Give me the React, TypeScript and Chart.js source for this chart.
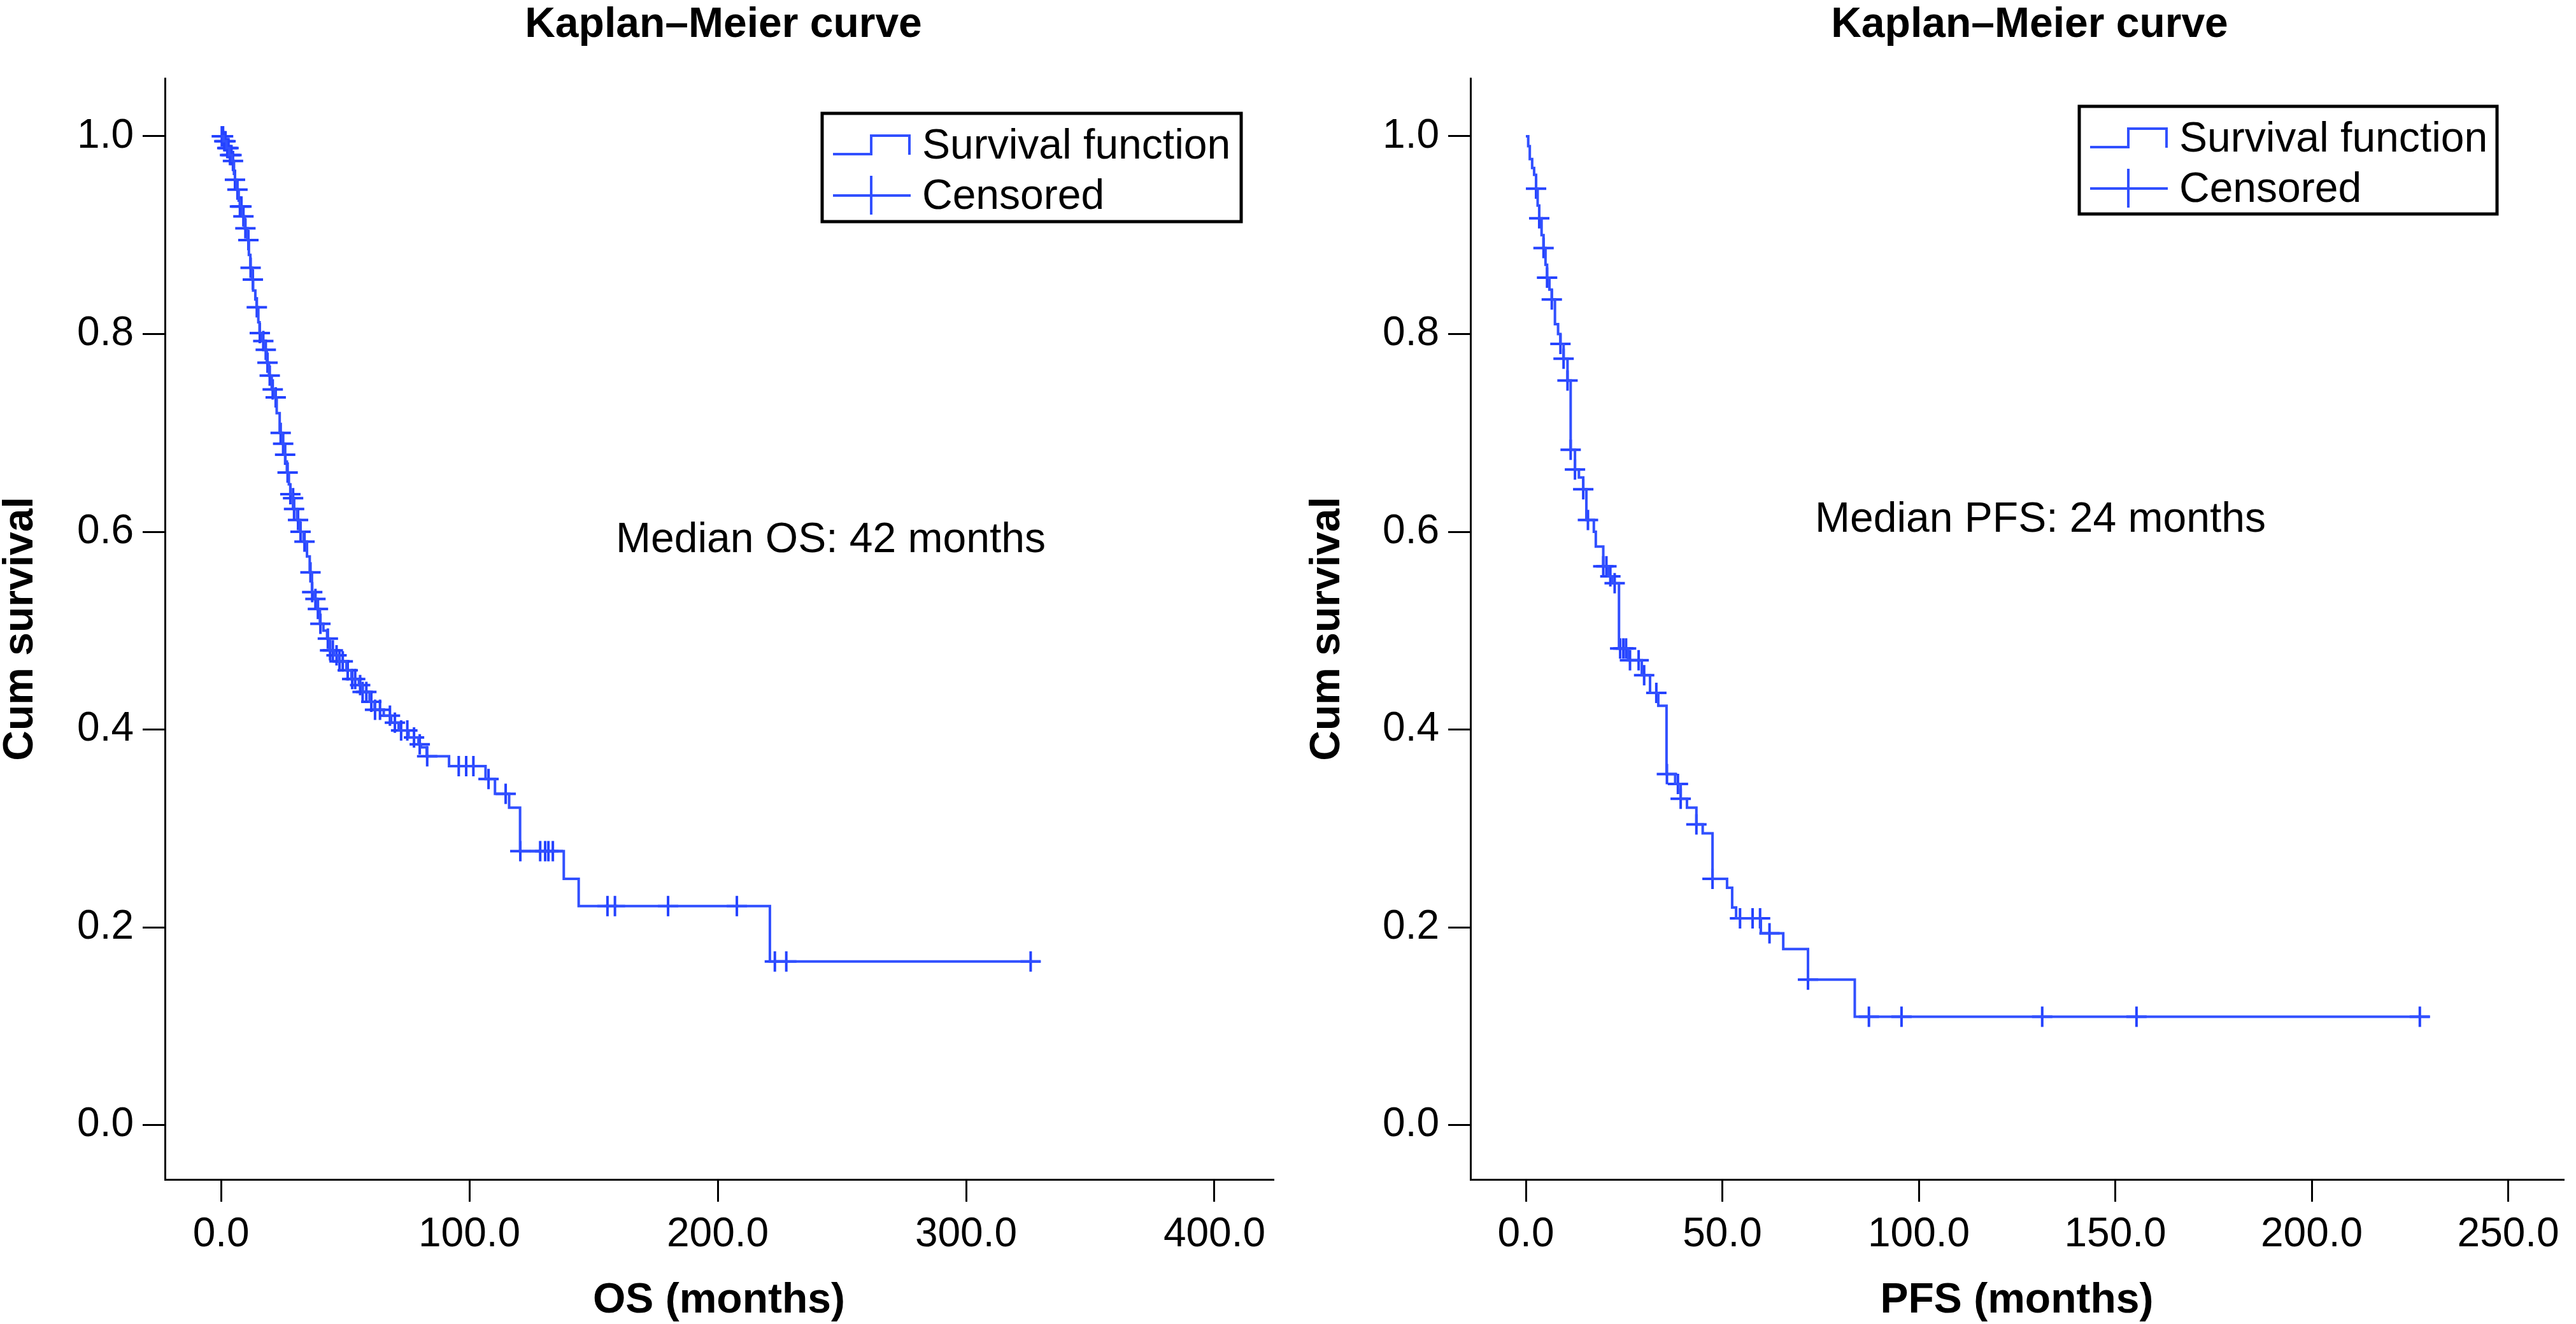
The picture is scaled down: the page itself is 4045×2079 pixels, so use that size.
import React, { useEffect, useRef } from "react";
import { Chart, registerables } from "chart.js";

Chart.register(...registerables);

// ---------- DATA ----------
const osStepTimes = [
  0, 1.0, 2.2, 3.3, 4.4, 5.2, 5.6, 6.3, 7.1, 7.6, 8.5, 9.5, 10.6, 11.2, 11.8, 12.5, 12.9, 13.8, 14.3, 15.0,
  15.5, 16.6, 17.6, 18.4, 19.3, 20.4, 21.6, 22.4, 23.6, 24.7, 25.5, 25.9, 26.5, 27.3, 27.9, 28.7, 29.3, 30.6,
  31.7, 33.2, 34.6, 35.7, 36.6, 37.6, 38.7, 39.8, 41.2, 42.7, 43.7, 45.5, 47.5, 50.5, 52.5, 55.5, 57.0, 59.8,
  61.8, 65.5, 68.5, 71.5, 75.5, 79.5, 80.5, 82.8, 91.8, 106.5, 110.3, 116.0, 120.4, 138.0, 144.0, 221.0,
];
const osStepSurvival = [
  1.0, 0.995, 0.988, 0.981, 0.975, 0.962, 0.956, 0.946, 0.935, 0.929, 0.919, 0.907, 0.895, 0.88, 0.867, 0.855,
  0.844, 0.835, 0.827, 0.812, 0.801, 0.793, 0.784, 0.771, 0.758, 0.744, 0.736, 0.72, 0.7, 0.689, 0.678, 0.671,
  0.66, 0.648, 0.638, 0.634, 0.623, 0.612, 0.6, 0.59, 0.575, 0.559, 0.539, 0.532, 0.522, 0.507, 0.5, 0.492,
  0.48, 0.475, 0.469, 0.46, 0.451, 0.445, 0.438, 0.428, 0.42, 0.414, 0.407, 0.399, 0.392, 0.385, 0.382, 0.373,
  0.363, 0.35, 0.335, 0.321, 0.277, 0.249, 0.2215, 0.1655,
];
const osEndTime = 330;
const osCensorTimes = [
  0.3, 0.8, 1.3, 1.8, 2.5, 3.0, 3.6, 4.2, 4.8, 5.6, 6.6, 7.6, 8.2, 9.0, 9.8, 11.0, 11.9, 12.8, 14.4, 15.6, 17.0,
  18.0, 18.7, 19.6, 20.8, 22.0, 24.0, 25.0, 25.8, 26.8, 27.9, 29.0, 29.4, 31.0, 32.0, 33.6, 36.0, 36.7, 38.0,
  39.0, 40.0, 43.0, 43.9, 45.0, 46.5, 47.7, 49.0, 51.0, 52.8, 54.0, 56.0, 57.0, 58.5, 60.5, 62.0, 64.0, 68.0,
  70.0, 72.5, 75.0, 77.7, 80.0, 83.0, 95.7, 98.7, 101.6, 107.7, 114.6, 120.5, 128.5, 130.5, 131.8, 133.6, 155.6,
  158.6, 180.0, 207.7, 223.0, 227.6, 326.0,
];

const pfsStepTimes = [
  0, 0.6, 1.0, 1.6, 2.1, 2.6, 3.0, 3.4, 4.0, 4.5, 5.0, 5.4, 6.0, 6.6, 7.4, 8.2, 8.8, 9.6, 10.6, 11.4, 12.5,
  13.5, 14.6, 15.4, 17.3, 17.8, 19.7, 21.0, 22.0, 23.7, 26.0, 29.5, 31.6, 33.7, 35.8, 38.0, 39.4, 41.0, 43.4,
  45.0, 47.5, 51.2, 52.5, 53.5, 59.8, 65.5, 71.8, 83.7,
];
const pfsStepSurvival = [
  1.0, 0.99, 0.977, 0.968, 0.961, 0.947, 0.93, 0.917, 0.9, 0.887, 0.87, 0.857, 0.845, 0.835, 0.81, 0.8, 0.79,
  0.775, 0.753, 0.683, 0.663, 0.655, 0.643, 0.612, 0.6, 0.585, 0.565, 0.555, 0.548, 0.482, 0.47, 0.455, 0.437,
  0.424, 0.355, 0.345, 0.33, 0.321, 0.304, 0.295, 0.249, 0.24, 0.22, 0.209, 0.194, 0.178, 0.147, 0.1095,
];
const pfsEndTime = 230;
const pfsCensorTimes = [
  2.6, 3.4, 4.5, 5.4, 6.6, 8.8, 9.6, 10.6, 11.4, 12.5, 14.6, 15.8, 19.7, 20.5, 21.5, 22.6, 24.0, 24.8, 25.5,
  26.5, 28.7, 30.1, 33.2, 35.9, 38.7, 39.4, 43.4, 47.5, 54.5, 57.7, 59.6, 62.0, 71.8, 87.3, 95.6, 131.4, 155.4,
  227.5,
];

const yTickValues = [0, 0.2, 0.4, 0.6, 0.8, 1.0];
const osXTickValues = [0, 100, 200, 300, 400];
const pfsXTickValues = [0, 50, 100, 150, 200, 250];

const chartTitle = "Kaplan\u2013Meier curve";
const yAxisTitle = "Cum survival";
const legendLabels = ["Survival function", "Censored"];

// ---------- STYLE ----------
const FONT = '"Liberation Sans", Arial, Helvetica, sans-serif';
const LINE_BLUE = "#3150ff";
const MARK_BLUE = "#2442ff";
const PAGE_W = 4045;
const PAGE_H = 2079;

function survivalAt(times: number[], surv: number[], t: number) {
  let v = surv[0];
  for (let i = 0; i < times.length; i++) {
    if (times[i] <= t) v = surv[i];
  }
  return v;
}

type PanelCfg = {
  canvasLeft: number;
  canvasWidth: number;
  stepTimes: number[];
  stepSurv: number[];
  endTime: number;
  censorTimes: number[];
  xTicks: number[];
  xMin: number;
  xMax: number;
  xTitle: string;
  median: string;
  yScaleWidth: number;
  yTitlePad: number;
  padRight: number;
  titleX: number;
  medianX: number;
  medianY: number;
  legendBox: [number, number, number, number];
};

function makeChart(canvas: HTMLCanvasElement, p: PanelCfg) {
  const linePts = p.stepTimes.map((t, i) => ({ x: t, y: p.stepSurv[i] }));
  linePts.push({ x: p.endTime, y: p.stepSurv[p.stepSurv.length - 1] });
  const censorPts = p.censorTimes.map((t) => ({ x: t, y: survivalAt(p.stepTimes, p.stepSurv, t) }));

  const overlay = {
    id: "kmOverlay",
    afterDraw(chart: any) {
      const ctx = chart.ctx as CanvasRenderingContext2D;
      ctx.save();
      ctx.fillStyle = "#000";
      ctx.textBaseline = "alphabetic";
      // title
      ctx.font = `bold 66px ${FONT}`;
      ctx.textAlign = "center";
      ctx.fillText(chartTitle, p.titleX, 58);
      // median annotation
      ctx.font = `66px ${FONT}`;
      ctx.textAlign = "left";
      ctx.fillText(p.median, p.medianX, p.medianY);
      // legend
      const [bx, by, bw, bh] = p.legendBox;
      ctx.fillStyle = "#fff";
      ctx.fillRect(bx, by, bw, bh);
      ctx.strokeStyle = "#000";
      ctx.lineWidth = 5;
      ctx.strokeRect(bx, by, bw, bh);
      ctx.strokeStyle = LINE_BLUE;
      ctx.lineWidth = 4;
      ctx.beginPath();
      ctx.moveTo(bx + 17, by + 64);
      ctx.lineTo(bx + 77, by + 64);
      ctx.lineTo(bx + 77, by + 35);
      ctx.lineTo(bx + 137, by + 35);
      ctx.lineTo(bx + 137, by + 65);
      ctx.stroke();
      ctx.beginPath();
      ctx.moveTo(bx + 17, by + 129);
      ctx.lineTo(bx + 139, by + 129);
      ctx.moveTo(bx + 77, by + 98);
      ctx.lineTo(bx + 77, by + 159);
      ctx.stroke();
      ctx.fillStyle = "#000";
      ctx.font = `66px ${FONT}`;
      ctx.fillText(legendLabels[0], bx + 157, by + 71);
      ctx.fillText(legendLabels[1], bx + 157, by + 150);
      ctx.restore();
    },
  };

  return new Chart(canvas, {
    type: "scatter",
    data: {
      datasets: [
        {
          label: legendLabels[0],
          data: linePts,
          showLine: true,
          stepped: true,
          borderColor: LINE_BLUE,
          backgroundColor: LINE_BLUE,
          borderWidth: 4,
          pointRadius: 0,
          fill: false,
        } as any,
        {
          label: legendLabels[1],
          data: censorPts,
          showLine: false,
          pointStyle: "cross",
          pointRadius: 16,
          pointBorderWidth: 4,
          borderColor: MARK_BLUE,
          backgroundColor: MARK_BLUE,
          clip: false,
        } as any,
      ],
    },
    options: {
      responsive: false,
      animation: false,
      devicePixelRatio: 1,
      events: [],
      layout: { padding: { left: 0, right: p.padRight, top: 123, bottom: 0 } },
      plugins: {
        legend: { display: false },
        title: { display: false },
        tooltip: { enabled: false },
      },
      scales: {
        x: {
          type: "linear",
          min: p.xMin,
          max: p.xMax,
          afterBuildTicks: (s: any) => {
            s.ticks = p.xTicks.map((v) => ({ value: v }));
          },
          afterFit: (s: any) => {
            s.height = PAGE_H - 1852;
            s.paddingLeft = 0;
            s.paddingRight = 0;
          },
          ticks: {
            callback: (v: any) => Number(v).toFixed(1),
            font: { family: FONT, size: 64 },
            color: "#000",
            padding: 14,
            maxRotation: 0,
            autoSkip: false,
          },
          grid: {
            display: true,
            drawOnChartArea: false,
            drawTicks: true,
            tickLength: 35,
            color: "#000",
            lineWidth: 3,
          },
          border: { display: true, color: "#000", width: 3 },
          title: {
            display: true,
            text: p.xTitle,
            color: "#000",
            font: { family: FONT, size: 66, weight: "bold", lineHeight: 1 },
            padding: { top: 0, bottom: 3 },
          },
        },
        y: {
          type: "linear",
          min: -0.055,
          max: 1.0586,
          afterBuildTicks: (s: any) => {
            s.ticks = yTickValues.map((v) => ({ value: v }));
          },
          afterFit: (s: any) => {
            s.width = p.yScaleWidth;
            s.paddingTop = 0;
            s.paddingBottom = 0;
          },
          ticks: {
            callback: (v: any) => Number(v).toFixed(1),
            font: { family: FONT, size: 64 },
            color: "#000",
            padding: 14,
            autoSkip: false,
          },
          grid: {
            display: true,
            drawOnChartArea: false,
            drawTicks: true,
            tickLength: 35,
            color: "#000",
            lineWidth: 3,
          },
          border: { display: true, color: "#000", width: 3 },
          title: {
            display: true,
            text: yAxisTitle,
            color: "#000",
            font: { family: FONT, size: 66, weight: "bold", lineHeight: 1 },
            padding: { top: p.yTitlePad, bottom: 0 },
          },
        },
      },
    } as any,
    plugins: [overlay],
  });
}

const leftPanel: PanelCfg = {
  canvasLeft: 0,
  canvasWidth: 2020,
  stepTimes: osStepTimes,
  stepSurv: osStepSurvival,
  endTime: osEndTime,
  censorTimes: osCensorTimes,
  xTicks: osXTickValues,
  xMin: -22.6,
  xMax: 423.6,
  xTitle: "OS (months)",
  median: "Median OS: 42 months",
  yScaleWidth: 259,
  yTitlePad: 0,
  padRight: 21,
  titleX: 1136,
  medianX: 967,
  medianY: 867,
  legendBox: [1291, 178, 658, 170],
};

const rightPanel: PanelCfg = {
  canvasLeft: 2020,
  canvasWidth: 2025,
  stepTimes: pfsStepTimes,
  stepSurv: pfsStepSurvival,
  endTime: pfsEndTime,
  censorTimes: pfsCensorTimes,
  xTicks: pfsXTickValues,
  xMin: -14.1,
  xMax: 264,
  xTitle: "PFS (months)",
  median: "Median PFS: 24 months",
  yScaleWidth: 289,
  yTitlePad: 32,
  padRight: 0,
  titleX: 3187 - 2020,
  medianX: 2850 - 2020,
  medianY: 835,
  legendBox: [3265 - 2020, 167, 656, 169],
};

function Panel({ cfg }: { cfg: PanelCfg }) {
  const ref = useRef<HTMLCanvasElement | null>(null);
  useEffect(() => {
    if (!ref.current) return;
    const chart = makeChart(ref.current, cfg);
    return () => chart.destroy();
  }, [cfg]);
  return (
    <div style={{ position: "absolute", left: cfg.canvasLeft, top: 0, width: cfg.canvasWidth, height: PAGE_H }}>
      <canvas
        ref={ref}
        width={cfg.canvasWidth}
        height={PAGE_H}
        style={{ width: cfg.canvasWidth, height: PAGE_H, display: "block" }}
      />
    </div>
  );
}

export default function App() {
  return (
    <div
      style={{
        position: "fixed",
        left: 0,
        top: 0,
        width: PAGE_W,
        height: PAGE_H,
        background: "#fff",
        overflow: "hidden",
      }}
    >
      <Panel cfg={leftPanel} />
      <Panel cfg={rightPanel} />
    </div>
  );
}
